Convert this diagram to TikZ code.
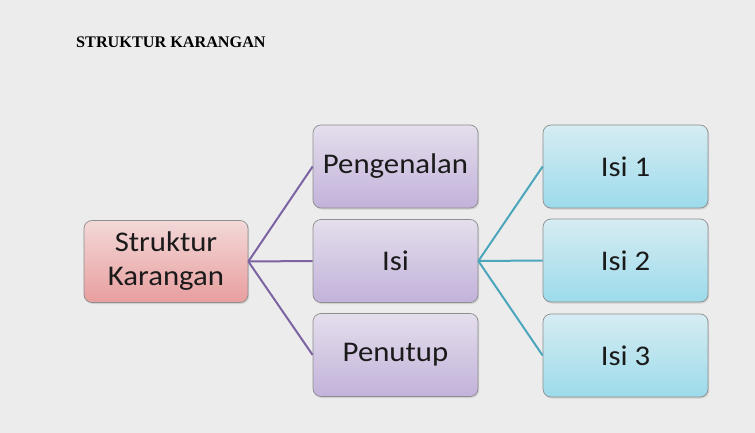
\documentclass[tikz,border=0pt]{standalone}
\usepackage{fontspec}
\setmainfont{Liberation Serif}
\newfontfamily\boxfont[FakeStretch=1.08]{Carlito}
\usetikzlibrary{shadows}
\definecolor{bgc}{HTML}{ECECEC}
\definecolor{rtop}{HTML}{F3D8D8}
\definecolor{rbot}{HTML}{E89E9E}
\definecolor{ptop}{HTML}{E4DEEC}
\definecolor{pbot}{HTML}{C2B2DA}
\definecolor{btop}{HTML}{D6ECF2}
\definecolor{bbot}{HTML}{9CDBEB}
\definecolor{plink}{HTML}{7C63A1}
\definecolor{blink}{HTML}{4BA6BC}
\definecolor{edgec}{HTML}{8E8E8E}
\definecolor{txt}{HTML}{1A1A1A}
\tikzset{
  boxbase/.style={draw=edgec, line width=0.7pt, rounded corners=8pt,
    minimum width=165pt, minimum height=83pt, align=center, text=txt,
    font=\boxfont\fontsize{28.5}{34}\selectfont, inner sep=0pt,
    drop shadow={opacity=0.25, shadow xshift=1.2pt, shadow yshift=-1.5pt}},
  rootbox/.style={boxbase, top color=rtop, bottom color=rbot, minimum width=164pt, minimum height=82pt},
  midbox/.style={boxbase, top color=ptop, bottom color=pbot},
  leafbox/.style={boxbase, top color=btop, bottom color=bbot},
  plinkstyle/.style={draw=plink, line width=2pt},
  blinkstyle/.style={draw=blink, line width=2pt}
}
\begin{document}
\begin{tikzpicture}[x=1pt,y=-1pt]
\fill[bgc] (0,0) rectangle (755,433);
\useasboundingbox (0,0) rectangle (755,433);
\node[anchor=base west, font=\bfseries\fontsize{16.2}{18}\selectfont, text=black, inner sep=0pt] (title) at (76,48) {STRUKTUR KARANGAN};
\node[rootbox] (S) at (166,261.5) {Struktur\\Karangan};
\node[midbox] (P1) at (395.5,166.5) {Pengenalan};
\node[midbox] (P2) at (395.5,261) {Isi};
\node[midbox] (P3) at (395.5,355) {Penutup};
\node[leafbox] (I1) at (625.5,166.5) {Isi 1};
\node[leafbox] (I2) at (625.5,260.5) {Isi 2};
\node[leafbox] (I3) at (625.5,355.5) {Isi 3};
\draw[plinkstyle] (S.east) -- (P1.west);
\draw[plinkstyle] (S.east) -- (P2.west);
\draw[plinkstyle] (S.east) -- (P3.west);
\draw[blinkstyle] (P2.east) -- (I1.west);
\draw[blinkstyle] (P2.east) -- (I2.west);
\draw[blinkstyle] (P2.east) -- (I3.west);
\end{tikzpicture}
\end{document}
